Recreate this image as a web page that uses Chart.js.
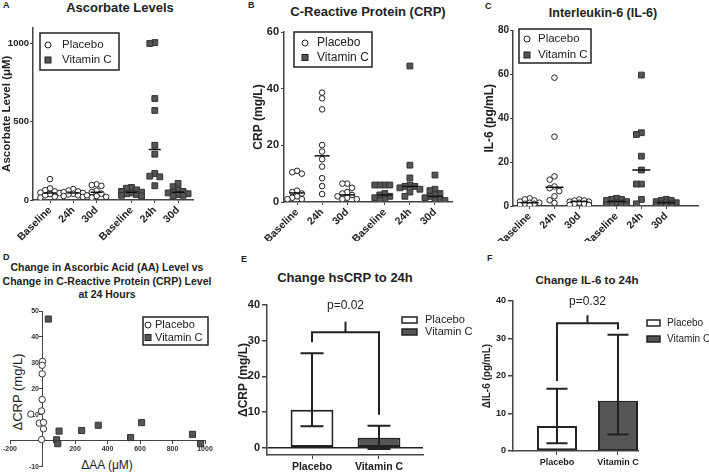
<!DOCTYPE html>
<html>
<head>
<meta charset="utf-8">
<script src="https://cdn.jsdelivr.net/npm/chart.js@4.4.0/dist/chart.umd.min.js"></script>
<style>
  body { margin: 0; background: #fff; width: 709px; height: 474px; position: relative; overflow: hidden; font-family: "Liberation Sans", Arial, sans-serif; color: #222; }
  canvas { position: absolute; }
  .t { position: absolute; font-weight: bold; white-space: nowrap; transform: translateX(-50%); text-align: center; line-height: 16px; }
  .lt { position: absolute; font-weight: bold; font-size: 9px; }
</style>
</head>
<body>
<div class="lt" style="left:3px;top:0px">A</div>
<div class="lt" style="left:248px;top:0px">B</div>
<div class="lt" style="left:485px;top:1px">C</div>
<div class="lt" style="left:3px;top:252px">D</div>
<div class="lt" style="left:241px;top:254px">E</div>
<div class="lt" style="left:487px;top:253px">F</div>

<div class="t" style="left:120px;top:0px;font-size:13px">Ascorbate Levels</div>
<div class="t" style="left:368px;top:4px;font-size:13px">C-Reactive Protein (CRP)</div>
<div class="t" style="left:603px;top:5px;font-size:12.5px">Interleukin-6 (IL-6)</div>
<div class="t" style="left:107px;top:261px;font-size:10.5px;line-height:13.5px">Change in Ascorbic Acid (AA) Level vs<br>Change in C-Reactive Protein (CRP) Level<br>at 24 Hours</div>
<div class="t" style="left:345px;top:270px;font-size:13px">Change hsCRP to 24h</div>
<div class="t" style="left:587px;top:272px;font-size:11.5px">Change IL-6 to 24h</div>
<div style="position:absolute;left:17px;top:392px;transform:translate(-50%,-50%) rotate(-90deg);font-size:13px;white-space:nowrap">ΔCRP (mg/L)</div>
<div style="position:absolute;left:107px;top:465px;transform:translate(-50%,-50%);font-size:12px;white-space:nowrap">ΔAA (μM)</div>

<canvas id="chartA" width="210" height="221" style="left:0px;top:20px"></canvas>
<canvas id="chartB" width="230" height="221" style="left:236px;top:20px"></canvas>
<canvas id="chartC" width="239" height="221" style="left:470px;top:20px"></canvas>
<canvas id="chartD" width="230" height="174" style="left:0px;top:300px"></canvas>
<canvas id="chartE" width="240" height="184" style="left:236px;top:290px"></canvas>
<canvas id="chartF" width="239" height="184" style="left:470px;top:290px"></canvas>

<script>
// ---- datos ----
const groupLabels = ["Baseline", "24h", "30d", "Baseline", "24h", "30d"]

// A: ascorbato (uM) por grupo: Baseline, 24h, 30d
const ascPlacebo = [
  [133, 74, 63, 55, 47, 45, 38, 30, 21, 15],
  [70, 60, 55, 50, 45, 40, 35, 30, 25, 20],
  [100, 95, 90, 60, 50, 40, 30, 25, 20, 15],
]
const ascVitC = [
  [80, 75, 65, 55, 50, 45, 40, 35, 30, 25],
  [1004, 998, 647, 571, 349, 292, 169, 152, 148, 91],
  [106, 85, 65, 55, 50, 45, 40, 35, 30, 25],
]
const ascMedPlacebo = [45, 45, 50]
const ascMedVitC = [50, 322, 50]

// B: CRP (mg/L)
const crpPlacebo = [
  [11, 10.5, 10, 4, 3.5, 3, 2, 1.5, 1, 1],
  [38.6, 36.6, 32.7, 20.1, 17.8, 15.1, 12.5, 8.4, 5.6, 2.8],
  [6.5, 6.5, 5, 3.5, 3, 2.5, 2, 1.5, 1, 1],
]
const crpVitC = [
  [6, 6, 6, 6, 3, 2.5, 2, 1.5, 1, 0.5],
  [48, 13, 8.5, 6, 5.5, 5.5, 5, 4.5, 3.5, 2],
  [9.5, 4.5, 4, 3, 2.5, 2, 1.5, 1, 0.5, 0.5],
]
const crpMedPlacebo = [3.2, 16.3, 2.5]
const crpMedVitC = [2.5, 5.5, 2]

// C: IL-6 (pg/mL)
const il6Placebo = [
  [3.5, 3, 2.5, 2, 1.5, 1.5, 1, 1, 0.5, 0.5],
  [58.5, 31.6, 13.5, 12, 8.9, 8.1, 6.8, 4.4, 2.6, 1.4],
  [3, 2.5, 2.5, 2, 2, 1.5, 1, 1, 0.5, 0.5],
]
const il6VitC = [
  [3.5, 3, 3, 2.5, 2, 1.5, 1, 1, 0.5, 0.5],
  [59.7, 33.4, 32.6, 22.7, 16.4, 10, 10, 3, 1],
  [3, 2.5, 2.5, 2, 1.5, 1.5, 1, 1, 0.5, 0.5],
]
const il6MedPlacebo = [1.5, 8.6, 2]
const il6MedVitC = [2, 16.4, 1.5]

// D: cambio AA (x) vs cambio CRP (y) a 24h
const dPlacebo = [[-72, 10.3], [0, 30.6], [-2, 29.1], [-2, 25.8], [-2, 15.9], [-6, 11.5], [-20, 6.8], [6, 7.1], [6, 4.6], [-6, 0.5]]
const dVitC = [[36, 46.9], [87, 0.4], [94, -1.1], [102, 3.75], [241, 4], [343, 6], [542, 1.25], [610, 7], [923, 2.5], [973, -1.1]]

// E y F: barras con barras de error
const barLabels = ["Placebo", "Vitamin C"]
const crpChange = [10.7, 2.8]
const crpChangeLow = [6.05, -0.3]
const crpChangeHigh = [26.5, 6.2]
const il6Change = [6.65, 13.4]
const il6ChangeLow = [2.1, 4.4]
const il6ChangeHigh = [16.6, 31.0]

// ---- estilo ----
Chart.defaults.font.family = "'Liberation Sans', Arial, sans-serif"
Chart.defaults.color = "#222"
const AXIS = "#444"
const DARK = "#555"

// x position of each group (gap between Placebo and Vitamin C blocks)
const slot = (i) => i + 1 + (i >= 3 ? 0.5 : 0)

// legend with optional frame, drawn inside the canvas
const boxLegend = {
  id: "boxLegend",
  afterDraw(chart, args, o) {
    const ctx = chart.ctx
    const items = chart.data.datasets.filter((d) => d.label)
    ctx.save()
    if (o.border) {
      ctx.lineWidth = 1.5
      ctx.strokeStyle = "#222"
      ctx.strokeRect(o.x, o.y, o.w, o.h)
    }
    ctx.font = o.size + "px 'Liberation Sans', Arial, sans-serif"
    ctx.textBaseline = "middle"
    items.forEach((d, i) => {
      const y = o.y0 + i * o.row
      ctx.fillStyle = d.backgroundColor
      ctx.strokeStyle = "#222"
      ctx.lineWidth = o.box ? 1.5 : 1
      if (o.box) {
        ctx.fillRect(o.mx, y - o.bh / 2, o.bw, o.bh)
        ctx.strokeRect(o.mx, y - o.bh / 2, o.bw, o.bh)
      } else if (d.pointStyle === "circle") {
        ctx.beginPath()
        ctx.arc(o.mx, y, 3, 0, Math.PI * 2)
        ctx.fill()
        ctx.stroke()
      } else {
        ctx.fillRect(o.mx - 3, y - 3, 6, 6)
        ctx.strokeRect(o.mx - 3, y - 3, 6, 6)
      }
      ctx.fillStyle = "#222"
      ctx.fillText(d.label, o.tx, y)
    })
    ctx.restore()
  },
}

const errorBars = {
  id: "errorBars",
  afterDatasetsDraw(chart, args, o) {
    const { ctx, scales: { y } } = chart
    ctx.save()
    ctx.strokeStyle = "#222"
    ctx.lineWidth = 2
    chart.data.datasets.forEach((d, i) => {
      const bar = chart.getDatasetMeta(i).data[0]
      const lo = y.getPixelForValue(o.low[i])
      const hi = y.getPixelForValue(o.high[i])
      ctx.beginPath()
      ctx.moveTo(bar.x, lo); ctx.lineTo(bar.x, hi)
      ctx.moveTo(bar.x - o.cap, lo); ctx.lineTo(bar.x + o.cap, lo)
      ctx.moveTo(bar.x - o.cap, hi); ctx.lineTo(bar.x + o.cap, hi)
      ctx.stroke()
    })
    ctx.restore()
  },
}

const bracket = {
  id: "bracket",
  afterDatasetsDraw(chart, args, o) {
    const { ctx, scales: { x, y } } = chart
    const x1 = x.getPixelForValue(0), x2 = x.getPixelForValue(1), xm = (x1 + x2) / 2
    const top = y.getPixelForValue(o.top)
    ctx.save()
    ctx.strokeStyle = "#222"
    ctx.lineWidth = 2
    ctx.beginPath()
    ctx.moveTo(x1, y.getPixelForValue(o.left)); ctx.lineTo(x1, top)
    ctx.lineTo(x2, top); ctx.lineTo(x2, y.getPixelForValue(o.right))
    ctx.moveTo(xm, top); ctx.lineTo(xm, y.getPixelForValue(o.tick))
    ctx.stroke()
    ctx.fillStyle = "#222"
    ctx.font = o.size + "px 'Liberation Sans', Arial, sans-serif"
    ctx.textAlign = "center"
    ctx.textBaseline = "middle"
    ctx.fillText(o.text, xm, y.getPixelForValue(o.textY))
    ctx.restore()
  },
}

// beeswarm spread like the GraphPad dot plots (gap in pixels, at most 2 steps each side)
function swarm(values, center, pxX, pxY, gap) {
  const placed = []
  const steps = [0, -1, 1, -2, 2]
  return values.map((v) => {
    const py = v * pxY
    let best = 0, bestDist = -1
    for (const k of steps) {
      const off = k * gap
      const dist = placed.reduce((m, p) => Math.min(m, Math.hypot(p.x - off, p.y - py)), Infinity)
      if (dist >= gap) { best = off; break }
      if (dist > bestDist) { bestDist = dist; best = off }
    }
    placed.push({ x: best, y: py })
    return { x: center + best / pxX, y: v }
  })
}

function dotPlot(id, o) {
  const medians = o.medPlacebo.map((v, g) => ({ x: slot(g), y: v }))
    .concat(o.medVitC.map((v, g) => ({ x: slot(g + 3), y: v })))
  const chart = new Chart(document.getElementById(id), {
    type: "scatter",
    data: {
      datasets: [
        { label: "Placebo", data: [], pointStyle: "circle", pointRadius: 2.8, backgroundColor: "#fff", borderColor: "#222", borderWidth: 1, order: 2 },
        { label: "Vitamin C", data: [], pointStyle: "rect", pointRadius: 4.1, backgroundColor: DARK, borderColor: "#333", borderWidth: 1, order: 1 },
        { data: medians, pointStyle: "line", pointRadius: o.medLen, borderColor: "#111", borderWidth: 1.5, order: 0 },
      ],
    },
    options: {
      responsive: false,
      animation: false,
      layout: { padding: { top: o.padTop, right: o.padRight, left: 0, bottom: 0 } },
      plugins: { legend: { display: false }, tooltip: { enabled: false }, boxLegend: o.legend },
      scales: {
        x: {
          type: "linear",
          min: o.xMin,
          max: o.xMax,
          afterBuildTicks: (s) => { s.ticks = groupLabels.map((_, i) => ({ value: slot(i) })) },
          afterFit: (s) => { s.height = o.xHeight },
          ticks: { autoSkip: false, minRotation: 45, maxRotation: 45, padding: 1, font: { size: 10.5, weight: "bold" }, callback: (v, i) => groupLabels[i] },
          grid: { drawOnChartArea: false, tickLength: 3, color: AXIS },
          border: { color: AXIS, width: 1.5 },
        },
        y: {
          min: 0,
          max: o.yMax,
          afterBuildTicks: (s) => { s.ticks = o.yTicks.map((v) => ({ value: v })) },
          afterFit: (s) => { s.width = o.yWidth },
          ticks: { autoSkip: false, padding: o.tickPad, font: { size: o.tickSize, weight: "bold" }, callback: (v) => String(v) },
          grid: { drawOnChartArea: false, tickLength: 3, color: AXIS },
          border: { color: AXIS, width: 1.5 },
          title: { display: true, text: o.yTitle, padding: { top: o.titlePad, bottom: 0 }, font: { size: o.titleSize, weight: "bold" } },
        },
      },
    },
    plugins: [boxLegend],
  })
  const sx = chart.scales.x, sy = chart.scales.y
  const pxX = sx.getPixelForValue(1) - sx.getPixelForValue(0)
  const pxY = sy.getPixelForValue(0) - sy.getPixelForValue(1)
  chart.data.datasets[0].data = o.placebo.flatMap((vals, g) => swarm(vals, slot(g), pxX, pxY, 4.8))
  chart.data.datasets[1].data = o.vitc.flatMap((vals, g) => swarm(vals, slot(g + 3), pxX, pxY, 5))
  chart.update()
  return chart
}

// A
dotPlot("chartA", {
  placebo: ascPlacebo, vitc: ascVitC, medPlacebo: ascMedPlacebo, medVitC: ascMedVitC,
  yMax: 1100, yTicks: [0, 500, 1000], yTitle: "Ascorbate Level (μM)", tickSize: 9.5, tickPad: 1, titleSize: 11.5,
  xMin: 0.27, xMax: 7.14, yWidth: 33, xHeight: 41, padTop: 6, padRight: 17, titlePad: 0, medLen: 6,
  legend: { border: true, x: 40, y: 13, w: 79, h: 37, mx: 48, tx: 62, y0: 25, row: 15, size: 11.5 },
})

// B
dotPlot("chartB", {
  placebo: crpPlacebo, vitc: crpVitC, medPlacebo: crpMedPlacebo, medVitC: crpMedVitC,
  yMax: 60, yTicks: [0, 20, 40, 60], yTitle: "CRP (mg/L)", tickSize: 11, tickPad: 2, titleSize: 12,
  xMin: 0.48, xMax: 7.18, yWidth: 48, xHeight: 39, padTop: 12, padRight: 14, titlePad: 15, medLen: 7.5,
  legend: { border: true, x: 58, y: 12, w: 78, h: 35, mx: 69, tx: 81, y0: 23, row: 14.5, size: 12 },
})

// C
dotPlot("chartC", {
  placebo: il6Placebo, vitc: il6VitC, medPlacebo: il6MedPlacebo, medVitC: il6MedVitC,
  yMax: 80, yTicks: [0, 20, 40, 60, 80], yTitle: "IL-6 (pg/mL)", tickSize: 10, tickPad: 1, titleSize: 12,
  xMin: 0.33, xMax: 7.8, yWidth: 43, xHeight: 35, padTop: 8, padRight: 6, titlePad: 12, medLen: 9,
  legend: { border: true, x: 49, y: 9, w: 72, h: 34, mx: 57, tx: 68, y0: 19, row: 16, size: 11.5 },
})

// D: axes cross at the origin; a trailing en space keeps the y labels off the axis line
new Chart(document.getElementById("chartD"), {
  type: "scatter",
  data: {
    datasets: [
      { label: "Placebo", data: dPlacebo.map(([x, y]) => ({ x, y })), pointStyle: "circle", pointRadius: 3.2, backgroundColor: "#fff", borderColor: "#333", borderWidth: 1 },
      { label: "Vitamin C", data: dVitC.map(([x, y]) => ({ x, y })), pointStyle: "rect", pointRadius: 4.3, backgroundColor: DARK, borderColor: "#333", borderWidth: 1 },
    ],
  },
  options: {
    responsive: false,
    animation: false,
    layout: { padding: { left: 10, right: 25, top: 11, bottom: 3 } },
    plugins: {
      legend: { display: false }, tooltip: { enabled: false },
      boxLegend: { border: true, x: 143, y: 17, w: 65, h: 28, mx: 148, tx: 155, y0: 25, row: 12.5, size: 11 },
    },
    scales: {
      x: {
        min: -200, max: 1000, position: { y: 0 },
        afterBuildTicks: (s) => { s.ticks = [-200, 0, 200, 400, 600, 800, 1000].map((v) => ({ value: v })) },
        ticks: { autoSkip: false, maxRotation: 0, padding: 1, color: "#333", font: { size: 7, weight: "bold" }, callback: (v) => (v === 0 ? "" : String(v)) },
        grid: { drawOnChartArea: false, tickLength: 3, color: AXIS },
        border: { color: AXIS, width: 1 },
      },
      y: {
        min: -10, max: 50, position: { x: 0 },
        afterBuildTicks: (s) => { s.ticks = [-10, 0, 10, 20, 30, 40, 50].map((v) => ({ value: v })) },
        ticks: { autoSkip: false, color: "#333", font: { size: 7, weight: "bold" }, callback: (v) => (v === 0 ? "" : v + "\u2002") },
        grid: { drawOnChartArea: false, tickLength: 3, color: AXIS },
        border: { color: AXIS, width: 1 },
      },
    },
  },
  plugins: [boxLegend],
})

function barPlot(id, o) {
  return new Chart(document.getElementById(id), {
    type: "bar",
    data: {
      datasets: barLabels.map((lab, i) => ({
        label: lab,
        data: [{ x: i, y: o.values[i] }],
        backgroundColor: i === 0 ? "#fff" : DARK,
        borderColor: "#222",
        borderWidth: 2,
        borderSkipped: false,
      })),
    },
    options: {
      responsive: false,
      animation: false,
      grouped: false,
      categoryPercentage: o.pct,
      barPercentage: o.pct,
      layout: { padding: { top: o.padTop, right: o.padRight, left: 0, bottom: 0 } },
      plugins: {
        legend: { display: false }, tooltip: { enabled: false },
        boxLegend: o.legend, errorBars: o.err, bracket: o.bracket,
      },
      scales: {
        x: {
          type: "linear", offset: false, min: o.xMin, max: o.xMax,
          afterBuildTicks: (s) => { s.ticks = barLabels.map((_, i) => ({ value: i })) },
          afterFit: (s) => { s.height = o.xHeight },
          ticks: { autoSkip: false, maxRotation: 0, padding: 2, font: { size: o.xSize, weight: "bold" }, callback: (v, i) => barLabels[i] },
          grid: { drawOnChartArea: false, offset: false, tickLength: 4, color: AXIS },
          border: { color: AXIS, width: 1.5 },
        },
        y: {
          min: o.yMin, max: 40,
          afterBuildTicks: (s) => { s.ticks = [0, 10, 20, 30, 40].map((v) => ({ value: v })) },
          afterFit: (s) => { s.width = o.yWidth },
          ticks: { autoSkip: false, padding: 2, font: { size: o.tickSize, weight: "bold" }, callback: (v) => String(v) },
          grid: { color: (c) => (c.tick && c.tick.value === 0 && o.yMin < 0 ? "#222" : "rgba(0,0,0,0)"), tickColor: AXIS, lineWidth: 1.5, tickLength: 5 },
          border: { color: AXIS, width: 1.5 },
          title: { display: true, text: o.yTitle, padding: { top: o.titlePad, bottom: 0 }, font: { size: o.titleSize, weight: "bold" } },
        },
      },
    },
    plugins: [errorBars, bracket, boxLegend],
  })
}

// E
barPlot("chartE", {
  values: crpChange, yMin: -2, yTitle: "ΔCRP (mg/L)", titleSize: 12, titlePad: 0, tickSize: 11, xSize: 10.5,
  xMin: -0.672, xMax: 1.657, pct: 0.8, yWidth: 31, xHeight: 19, padTop: 15, padRight: 53,
  err: { low: crpChangeLow, high: crpChangeHigh, cap: 11.5 },
  bracket: { left: 29.6, top: 32.4, right: 9.3, tick: 35.3, text: "p=0.02", textY: 39.8, size: 12 },
  legend: { box: true, mx: 166, bw: 15, bh: 6, tx: 189, y0: 30, row: 12, size: 11 },
})

// F
barPlot("chartF", {
  values: il6Change, yMin: 0, yTitle: "ΔIL-6 (pg/mL)", titleSize: 10, titlePad: 11, tickSize: 9, xSize: 9,
  xMin: -0.721, xMax: 1.328, pct: 0.81, yWidth: 43, xHeight: 23, padTop: 11, padRight: 71,
  err: { low: il6ChangeLow, high: il6ChangeHigh, cap: 10.5 },
  bracket: { left: 18.7, top: 34.1, right: 32.4, tick: 36.2, text: "p=0.32", textY: 39.9, size: 12 },
  legend: { box: true, mx: 177, bw: 13, bh: 6, tx: 197, y0: 33, row: 16, size: 10 },
})
</script>
</body>
</html>
